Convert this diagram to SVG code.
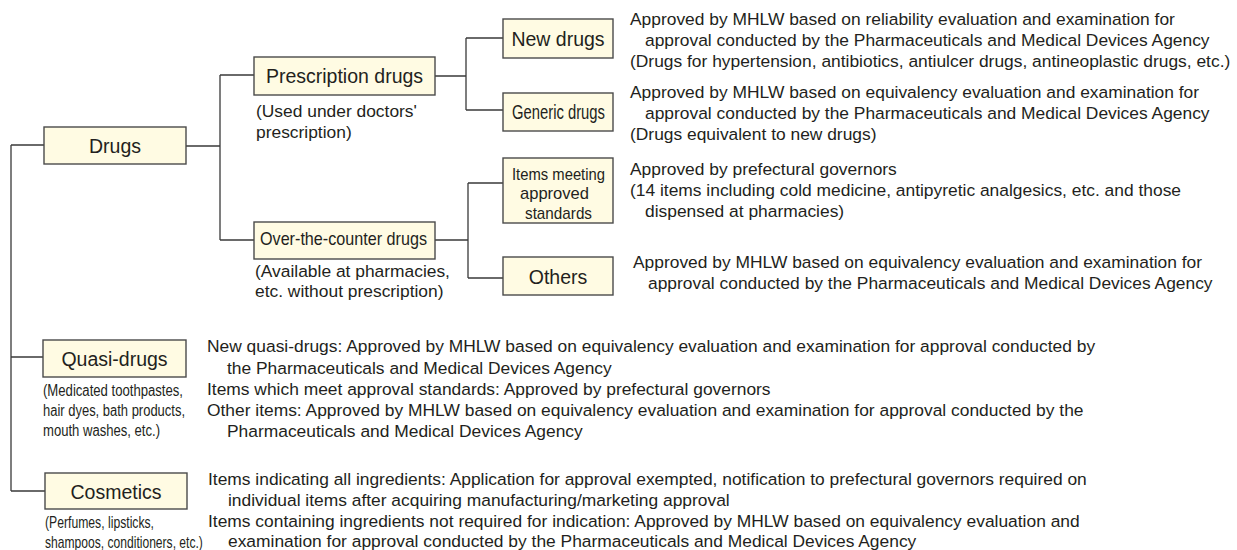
<svg xmlns="http://www.w3.org/2000/svg" width="1237" height="550" viewBox="0 0 1237 550">
<style>
.box{fill:#fffbe3;stroke:#4a4a4a;stroke-width:1.4}
.lab{font-family:"Liberation Sans",Arial,sans-serif;font-size:19.5px;fill:#231f20;text-anchor:middle}
.nar{font-family:"Liberation Sans",Arial,sans-serif;fill:#231f20}
.d{font-family:"Liberation Sans",Arial,sans-serif;font-size:17.4px;fill:#231f20}
.c{fill:none;stroke:#3a3a3a;stroke-width:1.3}
</style>
<rect width="1237" height="550" fill="#ffffff"/>
<g id="connectors">
<path class="c" d="M11,145 V491 M11,145 H44 M11,357 H43 M11,491 H45"/>
<path class="c" d="M186,146 H220 M220,75 V240 M220,75 H254 M220,240 H254"/>
<path class="c" d="M435,76 H466 M466,38 V110 M466,38 H503 M466,110 H503"/>
<path class="c" d="M435,240 H468 M468,183 V278 M468,183 H503 M468,278 H503"/>
</g>
<g id="drugs">
<rect class="box" x="44" y="127" width="142" height="37"/>
<text class="lab" x="115" y="153">Drugs</text>
</g>
<g id="prescription">
<rect class="box" x="254" y="57" width="181" height="38"/>
<text class="lab" x="344.5" y="83">Prescription drugs</text>
<text class="d" x="256" y="117">(Used under doctors'</text>
<text class="d" x="256" y="138">prescription)</text>
</g>
<g id="newdrugs">
<rect class="box" x="503" y="19" width="110" height="39"/>
<text class="lab" x="558" y="46">New drugs</text>
<text class="d" x="630" y="25">Approved by MHLW based on reliability evaluation and examination for</text>
<text class="d" x="645" y="46">approval conducted by the Pharmaceuticals and Medical Devices Agency</text>
<text class="d" x="630" y="67">(Drugs for hypertension, antibiotics, antiulcer drugs, antineoplastic drugs, etc.)</text>
</g>
<g id="generic">
<rect class="box" x="503" y="93" width="110" height="38"/>
<text class="nar" x="512" y="119" font-size="20" textLength="93" lengthAdjust="spacingAndGlyphs">Generic drugs</text>
<text class="d" x="630" y="98">Approved by MHLW based on equivalency evaluation and examination for</text>
<text class="d" x="645" y="119">approval conducted by the Pharmaceuticals and Medical Devices Agency</text>
<text class="d" x="630" y="140">(Drugs equivalent to new drugs)</text>
</g>
<g id="otc">
<rect class="box" x="254" y="222" width="181" height="37"/>
<text class="nar" x="260" y="245" font-size="18.5" textLength="167" lengthAdjust="spacingAndGlyphs">Over-the-counter drugs</text>
<text class="d" x="255" y="277">(Available at pharmacies,</text>
<text class="d" x="255" y="297">etc. without prescription)</text>
</g>
<g id="items-standards">
<rect class="box" x="503" y="158" width="110" height="65"/>
<text class="nar" x="512" y="180" font-size="17" textLength="93" lengthAdjust="spacingAndGlyphs">Items meeting</text>
<text class="nar" x="520" y="199" font-size="17" textLength="69" lengthAdjust="spacingAndGlyphs">approved</text>
<text class="nar" x="525" y="219" font-size="17" textLength="67" lengthAdjust="spacingAndGlyphs">standards</text>
<text class="d" x="630" y="175">Approved by prefectural governors</text>
<text class="d" x="630" y="196">(14 items including cold medicine, antipyretic analgesics, etc. and those</text>
<text class="d" x="645" y="217">dispensed at pharmacies)</text>
</g>
<g id="others">
<rect class="box" x="503" y="257" width="110" height="38"/>
<text class="lab" x="558" y="284">Others</text>
<text class="d" x="633" y="268">Approved by MHLW based on equivalency evaluation and examination for</text>
<text class="d" x="648" y="289">approval conducted by the Pharmaceuticals and Medical Devices Agency</text>
</g>
<g id="quasi">
<rect class="box" x="43" y="340" width="143" height="37"/>
<text class="lab" x="114.5" y="366">Quasi-drugs</text>
<text class="nar" x="43" y="396" font-size="16" textLength="140" lengthAdjust="spacingAndGlyphs">(Medicated toothpastes,</text>
<text class="nar" x="43" y="416" font-size="16" textLength="142" lengthAdjust="spacingAndGlyphs">hair dyes, bath products,</text>
<text class="nar" x="43" y="436" font-size="16" textLength="117" lengthAdjust="spacingAndGlyphs">mouth washes, etc.)</text>
<text class="d" x="207" y="352">New quasi-drugs: Approved by MHLW based on equivalency evaluation and examination for approval conducted by</text>
<text class="d" x="227" y="373.5">the Pharmaceuticals and Medical Devices Agency</text>
<text class="d" x="207" y="395">Items which meet approval standards: Approved by prefectural governors</text>
<text class="d" x="207" y="416">Other items: Approved by MHLW based on equivalency evaluation and examination for approval conducted by the</text>
<text class="d" x="227" y="437">Pharmaceuticals and Medical Devices Agency</text>
</g>
<g id="cosmetics">
<rect class="box" x="45" y="473" width="142" height="36"/>
<text class="lab" x="116" y="499">Cosmetics</text>
<text class="nar" x="45" y="527.5" font-size="16" textLength="109" lengthAdjust="spacingAndGlyphs">(Perfumes, lipsticks,</text>
<text class="nar" font-size="16" transform="translate(45,547.5) scale(0.756,1)" x="0" y="0">shampoos, conditioners, etc.)</text>
<text class="d" x="208" y="485">Items indicating all ingredients: Application for approval exempted, notification to prefectural governors required on</text>
<text class="d" x="228" y="506">individual items after acquiring manufacturing/marketing approval</text>
<text class="d" x="208" y="527">Items containing ingredients not required for indication: Approved by MHLW based on equivalency evaluation and</text>
<text class="d" x="228" y="547">examination for approval conducted by the Pharmaceuticals and Medical Devices Agency</text>
</g>
</svg>
